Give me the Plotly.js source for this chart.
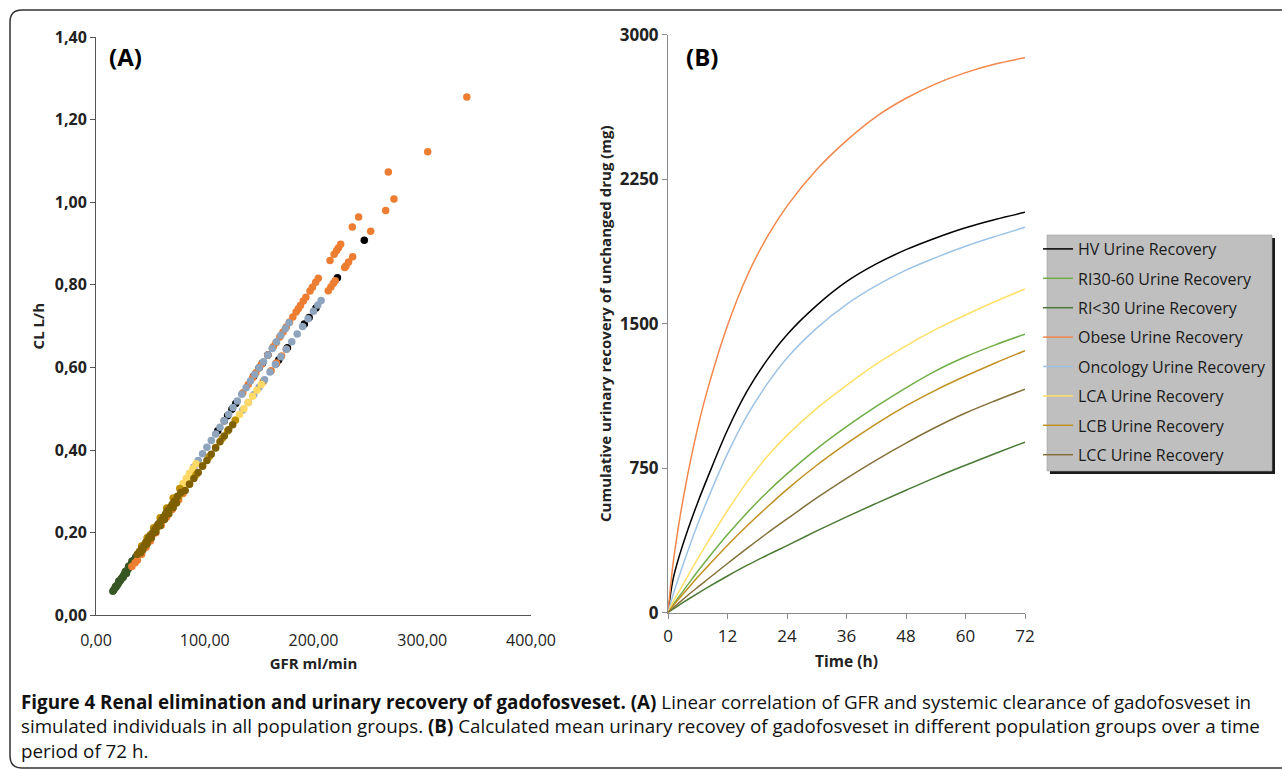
<!DOCTYPE html>
<html><head><meta charset="utf-8">
<script src="https://cdn.plot.ly/plotly-3.0.1.min.js"></script>
<style>html,body{margin:0;padding:0;background:#fff}#chart{width:1282px;height:770px}</style>
</head><body><div id="chart"></div><script>
// ---------- Panel A: GFR (ml/min) vs CL (L/h), per population group ----------
const hvGfr = [112, 118, 121, 125, 128.5, 145, 150, 153, 158, 165.5, 168, 176, 191.6, 196, 202.3, 222, 246.7];
const hvCl  = [0.447, 0.471, 0.483, 0.499, 0.513, 0.579, 0.599, 0.610, 0.630, 0.609, 0.618, 0.648, 0.705, 0.721, 0.744, 0.817, 0.908];

const ri3060Gfr = [30, 34, 38, 42, 46, 50, 55, 60];
const ri3060Cl  = [0.115, 0.130, 0.145, 0.160, 0.176, 0.190, 0.210, 0.228];

const ri30Gfr = [15.5, 16.5, 17.5, 18, 18.5, 19.5, 20.5, 21, 21.5, 22.5, 23.5, 24, 24.5, 25, 25.5, 26.5, 27, 27.5, 28, 28.5, 29.5, 30, 30.5, 31.5, 32.5, 33, 33.5, 35, 36.5];
const ri30Cl  = [0.058, 0.062, 0.066, 0.070, 0.069, 0.073, 0.077, 0.083, 0.081, 0.085, 0.089, 0.090, 0.093, 0.092, 0.097, 0.101, 0.106, 0.104, 0.101, 0.108, 0.112, 0.119, 0.116, 0.120, 0.124, 0.131, 0.128, 0.134, 0.141];

const obeseGfr = [33, 36, 38, 42, 46, 50, 55, 60, 65, 70, 76, 80,
  135, 140, 144, 147, 152, 158, 163, 165.5, 169, 172, 175, 178, 181, 184, 186, 188, 190.6, 193, 196.8, 199, 202, 204.4, 215.2, 219, 221.3, 223, 225, 235.7, 241.5, 268.8,
  153.9, 161, 166, 170.7, 175, 213.6, 216, 218.2, 220, 228.7, 230, 232.3, 236, 252.6, 266.4, 274, 305, 341];
const obeseCl  = [0.118, 0.127, 0.133, 0.148, 0.165, 0.180, 0.200, 0.218, 0.238, 0.256, 0.280, 0.295,
  0.539, 0.559, 0.575, 0.587, 0.607, 0.630, 0.650, 0.660, 0.674, 0.686, 0.698, 0.710, 0.722, 0.734, 0.742, 0.750, 0.761, 0.770, 0.785, 0.794, 0.806, 0.816, 0.859, 0.874, 0.883, 0.890, 0.898, 0.940, 0.964, 1.073,
  0.566, 0.592, 0.611, 0.628, 0.644, 0.786, 0.795, 0.803, 0.810, 0.842, 0.846, 0.855, 0.868, 0.930, 0.980, 1.008, 1.122, 1.255];

const oncoGfr = [86, 90, 94, 98, 102, 106, 110, 114, 118, 122, 126, 130, 134, 138, 142, 146, 150, 154, 158, 162, 166, 170, 174, 177.5,
  135, 140, 145, 150, 155, 160, 165, 170, 175, 180, 185, 190, 195, 200, 204, 207];
const oncoCl  = [0.343, 0.359, 0.375, 0.391, 0.407, 0.423, 0.439, 0.455, 0.471, 0.487, 0.503, 0.519, 0.535, 0.551, 0.567, 0.583, 0.599, 0.614, 0.630, 0.646, 0.662, 0.678, 0.694, 0.708,
  0.497, 0.515, 0.534, 0.552, 0.570, 0.589, 0.607, 0.626, 0.644, 0.662, 0.681, 0.699, 0.718, 0.736, 0.751, 0.762];

const lcaGfr = [80, 83, 86, 89, 92, 128.5, 132, 136, 140, 144, 148, 152];
const lcaCl  = [0.319, 0.331, 0.343, 0.355, 0.367, 0.473, 0.486, 0.500, 0.515, 0.530, 0.545, 0.559];

const lcbGfr = [40, 42, 43, 44, 46, 47, 49, 50, 52, 53, 55, 56, 58, 59, 61, 62, 64, 65, 67, 68, 70, 71, 73, 76, 77, 79, 86, 92, 98, 104, 110, 116, 121, 128];
const lcbCl  = [0.155, 0.168, 0.166, 0.170, 0.176, 0.188, 0.188, 0.195, 0.198, 0.212, 0.209, 0.216, 0.220, 0.236, 0.231, 0.238, 0.242, 0.260, 0.253, 0.260, 0.264, 0.284, 0.276, 0.287, 0.307, 0.298, 0.318, 0.340, 0.362, 0.384, 0.406, 0.428, 0.446, 0.472];

const lccGfr = [38, 40, 41, 42, 43, 44, 45, 46, 47, 48, 49, 50, 51, 52, 53, 54, 55, 56, 57, 58, 59, 60, 61, 62, 63, 64, 65, 66, 67, 68, 69, 70, 71, 72, 74, 75, 78, 82, 86, 90, 94, 98, 102, 106, 110, 114, 118, 122, 125.7];
const lccCl  = [0.148, 0.153, 0.152, 0.162, 0.158, 0.168, 0.170, 0.177, 0.173, 0.183, 0.190, 0.192, 0.188, 0.199, 0.200, 0.208, 0.202, 0.214, 0.220, 0.223, 0.217, 0.229, 0.232, 0.238, 0.232, 0.245, 0.250, 0.254, 0.246, 0.260, 0.262, 0.268, 0.261, 0.276, 0.272, 0.288, 0.297, 0.302, 0.317, 0.331, 0.346, 0.361, 0.375, 0.390, 0.405, 0.420, 0.434, 0.449, 0.461];

const aTickX = [0, 100, 200, 300, 400];
const aTickY = [0, 0.2, 0.4, 0.6, 0.8, 1.0, 1.2, 1.4];

// ---------- Panel B: cumulative urinary recovery (mg) vs time (h) ----------
const timeH = [0, 1, 2, 4, 6, 8, 12, 16, 20, 24, 30, 36, 42, 48, 54, 60, 66, 72];
const hvRec     = [0, 170, 270, 430, 572, 702, 948, 1152, 1312, 1443, 1595, 1718, 1810, 1884, 1945, 1998, 2041, 2078];
const ri3060Rec = [0, 40, 75, 145, 215, 280, 405, 520, 625, 720, 850, 965, 1070, 1167, 1255, 1328, 1390, 1445];
const ri30Rec   = [0, 18, 35, 68, 100, 131, 190, 246, 298, 348, 424, 497, 567, 635, 702, 765, 826, 885];
const obeseRec  = [0, 250, 430, 720, 960, 1160, 1490, 1750, 1950, 2110, 2300, 2450, 2575, 2670, 2745, 2803, 2848, 2880];
const oncoRec   = [0, 90, 170, 320, 460, 588, 825, 1025, 1187, 1322, 1477, 1600, 1697, 1778, 1843, 1902, 1953, 2000];
const lcaRec    = [0, 55, 100, 190, 280, 365, 530, 680, 810, 920, 1060, 1180, 1290, 1385, 1470, 1545, 1615, 1680];
const lcbRec    = [0, 35, 65, 125, 185, 240, 350, 452, 548, 640, 765, 877, 980, 1073, 1155, 1228, 1296, 1360];
const lccRec    = [0, 24, 46, 90, 132, 173, 255, 335, 412, 486, 595, 697, 792, 880, 962, 1036, 1100, 1160];

const bTickX = [0, 12, 24, 36, 48, 60, 72];
const bTickY = [0, 750, 1500, 2250, 3000];

const groupNames = ['HV Urine Recovery', 'RI30-60 Urine Recovery', 'RI<30 Urine Recovery', 'Obese Urine Recovery',
  'Oncology Urine Recovery', 'LCA Urine Recovery', 'LCB Urine Recovery', 'LCC Urine Recovery'];

// ---------- styling ----------
const scatColors = ['#000000', '#70AD47', '#375623', '#ED7D31', '#8EA3BC', '#FFD966', '#BF9000', '#7F6000'];
const lineColors = ['#000000', '#70AD47', '#4A7A35', '#F4874B', '#9DC3E6', '#FFE066', '#C09020', '#86703A'];
const W = 1282, H = 770;
const px = v => v / W, py = v => 1 - v / H;

const scatX = [hvGfr, ri3060Gfr, ri30Gfr, obeseGfr, oncoGfr, lcaGfr, lcbGfr, lccGfr];
const scatY = [hvCl, ri3060Cl, ri30Cl, obeseCl, oncoCl, lcaCl, lcbCl, lccCl];
const recY  = [hvRec, ri3060Rec, ri30Rec, obeseRec, oncoRec, lcaRec, lcbRec, lccRec];

const traces = [];
groupNames.forEach((n, i) => {
  traces.push({
    type: 'scatter', mode: 'markers', x: scatX[i], y: scatY[i],
    xaxis: 'x', yaxis: 'y', showlegend: false, name: n.replace(' Urine Recovery', ''),
    marker: {size: 7.5, color: scatColors[i], line: {width: 0}}, hoverinfo: 'x+y'
  });
});
groupNames.forEach((n, i) => {
  traces.push({
    type: 'scatter', mode: 'lines', x: timeH, y: recY[i], name: n, legendgroup: 'g' + i,
    xaxis: 'x2', yaxis: 'y2',
    line: {color: lineColors[i], width: 1.5, shape: 'spline', smoothing: 1}
  });
});

const F = 'Open Sans, sans-serif';
const txt = '#222';
const layout = {
  width: W, height: H, margin: {l: 0, r: 0, t: 0, b: 0},
  paper_bgcolor: '#fff', plot_bgcolor: '#fff',
  separators: ',.',
  font: {family: F, color: txt},
  showlegend: true,
  xaxis: {
    domain: [px(96), px(531)], range: [0, 400], tickvals: aTickX, tickformat: '.2f',
    showline: true, linecolor: '#555', linewidth: 1, ticks: '', ticklabelstandoff: 10,
    showgrid: false, zeroline: false, fixedrange: true,
    tickfont: {family: F, size: 16, color: txt},
    title: {text: 'GFR ml/min', font: {family: F, size: 15, weight: 'bold', color: txt}, standoff: 8}
  },
  yaxis: {
    domain: [py(615.3), py(37)], range: [0, 1.4], tickvals: aTickY, tickformat: '.2f',
    showline: true, linecolor: '#555', linewidth: 1, ticks: 'outside', ticklen: 5, tickcolor: '#555',
    showgrid: false, zeroline: false, fixedrange: true,
    tickfont: {family: F, size: 16, weight: 'bold', color: txt},
    title: {text: 'CL L/h', font: {family: F, size: 15, weight: 'bold', color: txt}, standoff: 6}
  },
  xaxis2: {
    domain: [px(668), px(1025)], range: [0, 72], tickvals: bTickX, anchor: 'y2',
    showline: true, linecolor: '#8a8a8a', linewidth: 1, ticks: 'outside', ticklen: 5, tickcolor: '#8a8a8a',
    ticklabelstandoff: 3,
    showgrid: false, zeroline: false, fixedrange: true,
    tickfont: {family: F, size: 17, color: txt},
    title: {text: 'Time (h)', font: {family: F, size: 15.5, weight: 'bold', color: txt}, standoff: 10}
  },
  yaxis2: {
    domain: [py(612.6), py(34.7)], range: [0, 3000], tickvals: bTickY, tickformat: 'd', anchor: 'x2',
    showline: true, linecolor: '#8a8a8a', linewidth: 1, ticks: 'outside', ticklen: 5, tickcolor: '#8a8a8a',
    showgrid: false, zeroline: false, fixedrange: true,
    tickfont: {family: F, size: 17, weight: 'bold', color: txt},
    title: {text: 'Cumulative urinary recovery of unchanged drug (mg)', font: {family: F, size: 15, weight: 'bold', color: txt}, standoff: 4}
  },
  legend: {
    x: px(1038), y: py(232), xanchor: 'left', yanchor: 'top',
    bgcolor: 'rgba(0,0,0,0)', borderwidth: 0, traceorder: 'grouped', tracegroupgap: 5.6,
    itemwidth: 30, font: {family: F, size: 16, color: '#1a1a1a'}
  },
  shapes: [
    {type: 'path', xref: 'paper', yref: 'paper', layer: 'below',
     path: `M ${px(1300)},${py(768)} L ${px(22)},${py(768)} Q ${px(10)},${py(768)} ${px(10)},${py(756)} L ${px(10)},${py(22)} Q ${px(10)},${py(10)} ${px(22)},${py(10)} L ${px(1300)},${py(10)}`,
     line: {color: '#333', width: 1.5}},
    {type: 'rect', xref: 'paper', yref: 'paper', x0: px(1050), x1: px(1275), y0: py(474), y1: py(238),
     fillcolor: '#1a1a1a', line: {width: 0}},
    {type: 'rect', xref: 'paper', yref: 'paper', x0: px(1047), x1: px(1272), y0: py(471), y1: py(235),
     fillcolor: '#bfbfbf', line: {width: 0.6, color: '#a0a0a0'}}
  ],
  annotations: [
    {xref: 'paper', yref: 'paper', x: px(125), y: py(56), text: '<b>(A)</b>', showarrow: false,
     xanchor: 'center', yanchor: 'middle', font: {family: F, size: 24, color: '#000'}},
    {xref: 'paper', yref: 'paper', x: px(702), y: py(57), text: '<b>(B)</b>', showarrow: false,
     xanchor: 'center', yanchor: 'middle', font: {family: F, size: 24, color: '#000'}},
    {xref: 'paper', yref: 'paper', x: px(19), y: py(687), xanchor: 'left', yanchor: 'top', align: 'left', showarrow: false,
     font: {family: F, size: 18.8, color: '#111'},
     text: '<b>Figure 4 Renal elimination and urinary recovery of gadofosveset. (A)</b> Linear correlation of GFR and systemic clearance of gadofosveset in<br>' +
           'simulated individuals in all population groups. <b>(B)</b> Calculated mean urinary recovey of gadofosveset in different population groups over a time<br>' +
           'period of 72 h.'}
  ]
};

Plotly.newPlot('chart', traces, layout, {displayModeBar: false, responsive: false});
</script></body></html>
